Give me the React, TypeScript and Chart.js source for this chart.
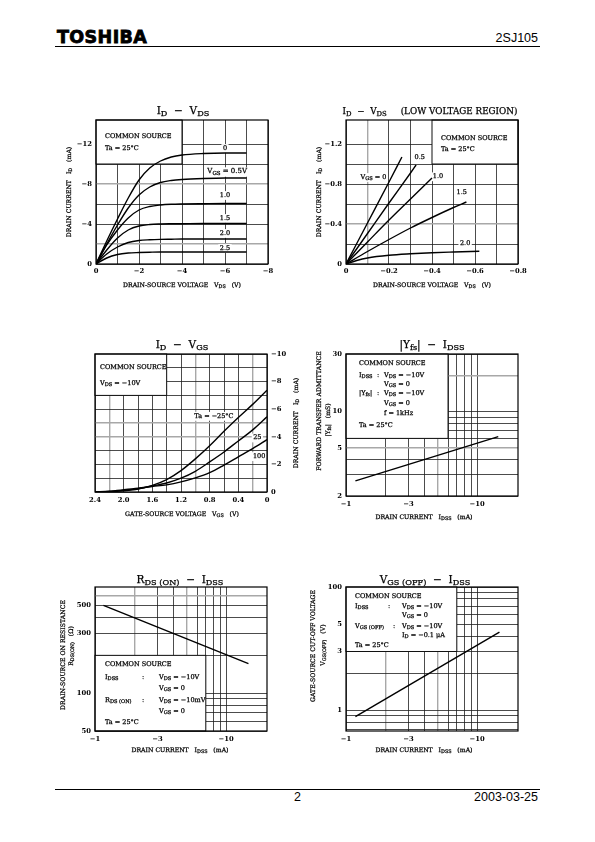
import React, { useEffect, useRef } from "react";
import { Chart, registerables } from "chart.js";
Chart.register(...registerables);

const FONT = '"DejaVu Serif", "Liberation Serif", serif';

// ===== Chart 1 : ID – VDS =====
const c1Vds = [0, -0.5, -1, -1.5, -2, -2.5, -3, -3.5, -4, -5, -6, -7];
const c1IdVgs00 = [0, -2.3, -4.5, -6.6, -8.4, -9.6, -10.3, -10.7, -10.9, -11.05, -11.1, -11.1];
const c1IdVgs05 = [0, -2.0, -3.9, -5.6, -6.9, -7.7, -8.15, -8.35, -8.45, -8.55, -8.6, -8.6];
const c1IdVgs10 = [0, -1.9, -3.4, -4.6, -5.4, -5.75, -5.9, -5.97, -6.0, -6.03, -6.05, -6.05];
const c1IdVgs15 = [0, -1.4, -2.6, -3.4, -3.8, -3.95, -4.0, -4.02, -4.03, -4.05, -4.05, -4.05];
const c1IdVgs20 = [0, -1.0, -1.7, -2.15, -2.35, -2.42, -2.46, -2.48, -2.5, -2.5, -2.5, -2.5];
const c1IdVgs25 = [0, -0.6, -0.95, -1.1, -1.15, -1.18, -1.2, -1.2, -1.2, -1.2, -1.2, -1.2];
const c1XTicks = [0, -1, -2, -3, -4, -5, -6, -7, -8];
const c1XLabels = ["0", "", "−2", "", "−4", "", "−6", "", "−8"];
const c1YTicks = [0, -2, -4, -6, -8, -10, -12];
const c1YLabels = ["0", "", "−4", "", "−8", "", "−12"];

// ===== Chart 2 : ID – VDS (low voltage region) =====
const c2Vgs00X = [0, -0.1, -0.2, -0.26];
const c2Vgs00Y = [0, -0.41, -0.82, -1.07];
const c2Vgs05X = [0, -0.1, -0.2, -0.3, -0.326];
const c2Vgs05Y = [0, -0.305, -0.61, -0.91, -0.99];
const c2Vgs10X = [0, -0.1, -0.2, -0.3, -0.4];
const c2Vgs10Y = [0, -0.22, -0.44, -0.65, -0.86];
const c2Vgs15X = [0, -0.1, -0.2, -0.3, -0.4, -0.5, -0.56];
const c2Vgs15Y = [0, -0.125, -0.245, -0.36, -0.465, -0.565, -0.62];
const c2Vgs20X = [0, -0.05, -0.1, -0.2, -0.3, -0.4, -0.5, -0.62];
const c2Vgs20Y = [0, -0.035, -0.06, -0.087, -0.102, -0.113, -0.12, -0.127];
const c2XTicks = [0, -0.1, -0.2, -0.3, -0.4, -0.5, -0.6, -0.7, -0.8];
const c2XLabels = ["0", "", "−0.2", "", "−0.4", "", "−0.6", "", "−0.8"];
const c2YTicks = [0, -0.2, -0.4, -0.6, -0.8, -1.0, -1.2];
const c2YLabels = ["0", "", "−0.4", "", "−0.8", "", "−1.2"];

// ===== Chart 3 : ID – VGS =====
const c3Vgs = [0, 0.2, 0.4, 0.6, 0.8, 1.0, 1.2, 1.4, 1.6, 1.8, 2.0, 2.2, 2.4];
const c3IdTaM25 = [-7.38, -6.35, -5.4, -4.4, -3.35, -2.4, -1.55, -0.9, -0.48, -0.22, -0.09, -0.02, 0];
const c3IdTa25 = [-5.45, -4.5, -3.7, -2.9, -2.18, -1.5, -1.0, -0.65, -0.43, -0.24, -0.12, -0.04, 0];
const c3IdTa100 = [-3.8, -3.15, -2.55, -1.95, -1.4, -1.02, -0.73, -0.52, -0.4, -0.27, -0.16, -0.06, 0];
const c3XTicks = [0, 0.2, 0.4, 0.6, 0.8, 1.0, 1.2, 1.4, 1.6, 1.8, 2.0, 2.2, 2.4];
const c3XLabels = ["0", "", "0.4", "", "0.8", "", "1.2", "", "1.6", "", "2.0", "", "2.4"];
const c3YTicks = [0, -1, -2, -3, -4, -5, -6, -7, -8, -9, -10];
const c3YLabels = ["0", "", "−2", "", "−4", "", "−6", "", "−8", "", "−10"];

// ===== Chart 4 : |Yfs| – IDSS (IDSS magnitude, mA) =====
const c4Idss = [1.18, 14.5];
const c4Yfs = [2.67, 6.2];
const c4XTicks = [1, 2, 3, 4, 5, 6, 7, 8, 9, 10];
const c4XLabels = ["−1", "", "−3", "", "", "", "", "", "", "−10"];
const c4YTicks = [2, 3, 4, 5, 6, 7, 8, 9, 10, 20, 30];
const c4YLabels = ["2", "", "", "5", "", "", "", "", "10", "", "30"];

// ===== Chart 5 : RDS(ON) – IDSS =====
const c5Idss = [1.16, 14.8];
const c5Rds = [500, 172];
const c5XTicks = [1, 2, 3, 4, 5, 6, 7, 8, 9, 10];
const c5XLabels = ["−1", "", "−3", "", "", "", "", "", "", "−10"];
const c5YTicks = [50, 60, 70, 80, 90, 100, 200, 300, 400, 500, 600];
const c5YLabels = ["50", "", "", "", "", "100", "", "300", "", "500", ""];

// ===== Chart 6 : VGS(OFF) – IDSS =====
const c6Idss = [1.18, 14.8];
const c6Vgsoff = [0.89, 4.3];
const c6XTicks = [1, 2, 3, 4, 5, 6, 7, 8, 9, 10];
const c6XLabels = ["−1", "", "−3", "", "", "", "", "", "", "−10"];
const c6YTicks = [0.7, 0.8, 0.9, 1, 2, 3, 4, 5, 6, 7, 8, 9, 10];
const c6YLabels = ["", "", "", "1", "", "3", "", "5", "", "", "", "", "100"];

// ---------------------------------------------------------------
type Txt = { t: string; x: number; y: number; s?: number; a?: "left" | "center" | "right"; r?: boolean; bg?: boolean };
type Axis = {
  log?: boolean; min: number; max: number; reverse?: boolean;
  ticks: number[]; labels: string[]; gray?: number[]; pad: number;
};
type Spec = {
  left: number; top: number; w: number; h: number;
  plot: [number, number, number, number];
  yRight?: boolean;
  x: Axis; y: Axis;
  series: { xs: number[]; ys: number[]; smooth?: boolean }[];
  box?: [number, number, number, number];
  texts: Txt[];
  labels: Txt[];
};

function parseRich(s: string) {
  const out: { t: string; sub: boolean }[] = [];
  const re = /_\{([^}]*)\}/g;
  let last = 0;
  let m: RegExpExecArray | null;
  while ((m = re.exec(s))) {
    if (m.index > last) out.push({ t: s.slice(last, m.index), sub: false });
    out.push({ t: m[1], sub: true });
    last = m.index + m[0].length;
  }
  if (last < s.length) out.push({ t: s.slice(last), sub: false });
  return out;
}

function drawRich(ctx: CanvasRenderingContext2D, tx: Txt, x: number, y: number) {
  const size = tx.s ?? 6.5;
  const subSize = size * 0.78;
  const segs = parseRich(tx.t);
  ctx.save();
  ctx.translate(x, y);
  if (tx.r) ctx.rotate(-Math.PI / 2);
  const widths = segs.map((sg) => {
    ctx.font = `${sg.sub ? subSize : size}px ${FONT}`;
    return ctx.measureText(sg.t).width;
  });
  const total = widths.reduce((a, b) => a + b, 0);
  const align = tx.a ?? "left";
  let cx = align === "center" ? -total / 2 : align === "right" ? -total : 0;
  if (tx.bg) {
    ctx.fillStyle = "#fff";
    ctx.fillRect(cx - 1.5, -size * 0.6, total + 3, size * 1.35);
  }
  ctx.fillStyle = "#000";
  ctx.strokeStyle = "#000";
  ctx.lineWidth = 0.25;
  ctx.textBaseline = "middle";
  ctx.textAlign = "left";
  segs.forEach((sg, i) => {
    ctx.font = `${sg.sub ? subSize : size}px ${FONT}`;
    const yy = sg.sub ? size * 0.3 : 0;
    ctx.fillText(sg.t, cx, yy);
    ctx.strokeText(sg.t, cx, yy);
    cx += widths[i];
  });
  ctx.restore();
}

function axisCfg(a: Axis, pos: string, size: number) {
  const isGray = (v: number) => (a.gray ?? []).some((g) => Math.abs(g - v) < 1e-9);
  return {
    type: a.log ? "logarithmic" : "linear",
    position: pos,
    min: a.min,
    max: a.max,
    reverse: !!a.reverse,
    afterBuildTicks: (s: any) => {
      s.ticks = a.ticks.map((v) => ({ value: v }));
    },
    afterFit: (s: any) => {
      if (pos === "bottom") s.height = size;
      else s.width = size;
    },
    ticks: {
      autoSkip: false,
      maxRotation: 0,
      minRotation: 0,
      padding: a.pad,
      color: "#000",
      font: { family: FONT, size: 6.8, weight: "bold" },
      callback: (_v: any, i: number) => a.labels[i],
    },
    grid: {
      drawTicks: false,
      color: (c: any) => (c.tick && isGray(c.tick.value) ? "#a8a8a8" : "#1e1e1e"),
      lineWidth: (c: any) => (c.tick && isGray(c.tick.value) ? 1.4 : 0.8),
    },
    border: { display: false },
  };
}

function makePlugin(spec: Spec) {
  return {
    id: "decor",
    beforeDatasetsDraw(chart: any) {
      const ctx: CanvasRenderingContext2D = chart.ctx;
      const ca = chart.chartArea;
      const xs = chart.scales.x;
      const ys = chart.scales.y;
      if (spec.box) {
        const [x0, x1, y0, y1] = spec.box;
        const px0 = xs.getPixelForValue(x0), px1 = xs.getPixelForValue(x1);
        const py0 = ys.getPixelForValue(y0), py1 = ys.getPixelForValue(y1);
        const l = Math.max(ca.left, Math.min(px0, px1));
        const r = Math.min(ca.right, Math.max(px0, px1));
        const t = Math.max(ca.top, Math.min(py0, py1));
        const b = Math.min(ca.bottom, Math.max(py0, py1));
        ctx.save();
        ctx.fillStyle = "#fff";
        ctx.fillRect(l, t, r - l, b - t);
        ctx.strokeStyle = "#111";
        ctx.lineWidth = 1;
        ctx.strokeRect(l, t, r - l, b - t);
        ctx.restore();
      }
      spec.texts.forEach((tx) => drawRich(ctx, tx, tx.x - spec.left, tx.y - spec.top));
      spec.labels.forEach((tx) => drawRich(ctx, { ...tx, a: tx.a ?? "center", bg: true }, xs.getPixelForValue(tx.x), ys.getPixelForValue(tx.y)));
    },
    afterDatasetsDraw(chart: any) {
      const ctx: CanvasRenderingContext2D = chart.ctx;
      const ca = chart.chartArea;
      ctx.save();
      ctx.strokeStyle = "#000";
      ctx.lineWidth = 1.2;
      ctx.strokeRect(ca.left, ca.top, ca.right - ca.left, ca.bottom - ca.top);
      ctx.restore();
    },
  };
}

function buildConfig(spec: Spec): any {
  const [pl, pt, pr, pb] = spec.plot;
  const leftW = pl - spec.left;
  const rightW = spec.left + spec.w - pr;
  const topH = pt - spec.top;
  const botH = spec.top + spec.h - pb;
  return {
    type: "scatter",
    data: {
      datasets: spec.series.map((s) => ({
        data: s.xs.map((x, i) => ({ x, y: s.ys[i] })),
        showLine: true,
        borderColor: "#000",
        borderWidth: 1.4,
        pointRadius: 0,
        cubicInterpolationMode: s.smooth ? "monotone" : "default",
        tension: 0,
      })),
    },
    options: {
      animation: false,
      responsive: false,
      maintainAspectRatio: false,
      devicePixelRatio: 1,
      events: [],
      layout: {
        padding: {
          left: spec.yRight ? leftW : 0,
          right: spec.yRight ? 0 : rightW,
          top: topH,
          bottom: 0,
        },
      },
      plugins: { legend: { display: false }, tooltip: { enabled: false }, title: { display: false } },
      scales: {
        x: axisCfg(spec.x, "bottom", botH),
        y: axisCfg(spec.y, spec.yRight ? "right" : "left", spec.yRight ? rightW : leftW),
      },
    },
    plugins: [makePlugin(spec)],
  };
}

// ---------------------------------------------------------------
const LOG_X = { log: true, min: 1, max: 20.5, pad: 4 };

const specs: Spec[] = [
  {
    left: 40, top: 98, w: 240, h: 200, plot: [96, 120, 268, 264],
    x: { min: -8, max: 0, reverse: true, ticks: c1XTicks, labels: c1XLabels, pad: 3 },
    y: { min: -14.4, max: 0, reverse: true, ticks: c1YTicks, labels: c1YLabels, gray: [-8, -2], pad: 4 },
    series: [c1IdVgs00, c1IdVgs05, c1IdVgs10, c1IdVgs15, c1IdVgs20, c1IdVgs25].map((ys) => ({ xs: c1Vds, ys, smooth: true })),
    box: [0, -4, -10, -14.4],
    texts: [
      { t: "I_{D}  −  V_{DS}", x: 183, y: 111, s: 10.5, a: "center" },
      { t: "DRAIN-SOURCE VOLTAGE   V_{DS}   (V)", x: 182, y: 285, s: 6.2, a: "center" },
      { t: "DRAIN CURRENT   I_{D}   (mA)", x: 69, y: 192, s: 6.2, a: "center", r: true },
      { t: "COMMON SOURCE", x: 105, y: 136 },
      { t: "Ta = 25°C", x: 105, y: 148 },
    ],
    labels: [
      { t: "0", x: -6, y: -11.6 },
      { t: "V_{GS} = 0.5V", x: -6.1, y: -9.25, s: 7 },
      { t: "1.0", x: -6, y: -6.9 },
      { t: "1.5", x: -6, y: -4.6 },
      { t: "2.0", x: -6, y: -3.1 },
      { t: "2.5", x: -6, y: -1.6 },
    ],
  },
  {
    left: 300, top: 98, w: 230, h: 200, plot: [346, 120, 518, 264],
    x: { min: -0.8, max: 0, reverse: true, ticks: c2XTicks, labels: c2XLabels, gray: [-0.1], pad: 3 },
    y: { min: -1.44, max: 0, reverse: true, ticks: c2YTicks, labels: c2YLabels, gray: [-0.4], pad: 4 },
    series: [
      { xs: c2Vgs00X, ys: c2Vgs00Y, smooth: true },
      { xs: c2Vgs05X, ys: c2Vgs05Y, smooth: true },
      { xs: c2Vgs10X, ys: c2Vgs10Y, smooth: true },
      { xs: c2Vgs15X, ys: c2Vgs15Y, smooth: true },
      { xs: c2Vgs20X, ys: c2Vgs20Y, smooth: true },
    ],
    box: [-0.4, -0.8, -1.0, -1.44],
    texts: [
      { t: "I_{D}  −  V_{DS}     (LOW VOLTAGE REGION)", x: 430, y: 112, s: 8.8, a: "center" },
      { t: "DRAIN-SOURCE VOLTAGE   V_{DS}   (V)", x: 432, y: 285, s: 6.2, a: "center" },
      { t: "DRAIN CURRENT   I_{D}   (mA)", x: 319, y: 192, s: 6.2, a: "center", r: true },
      { t: "COMMON SOURCE", x: 441, y: 138 },
      { t: "Ta = 25°C", x: 441, y: 149 },
    ],
    labels: [
      { t: "V_{GS} = 0", x: -0.128, y: -0.87 },
      { t: "0.5", x: -0.343, y: -1.07 },
      { t: "1.0", x: -0.428, y: -0.877 },
      { t: "1.5", x: -0.538, y: -0.713 },
      { t: "2.0", x: -0.554, y: -0.203 },
    ],
  },
  {
    left: 55, top: 332, w: 255, h: 190, plot: [95, 354, 267, 492], yRight: true,
    x: { min: 0, max: 2.4, reverse: true, ticks: c3XTicks, labels: c3XLabels, gray: [2.2, 1.0, 0.2], pad: 4 },
    y: { min: -10, max: 0, reverse: true, ticks: c3YTicks, labels: c3YLabels, gray: [-5, -4], pad: 4 },
    series: [c3IdTaM25, c3IdTa25, c3IdTa100].map((ys) => ({ xs: c3Vgs, ys, smooth: true })),
    box: [2.4, 1.4, -7, -10],
    texts: [
      { t: "I_{D}  −  V_{GS}", x: 182, y: 345, s: 10.5, a: "center" },
      { t: "GATE-SOURCE VOLTAGE   V_{GS}   (V)", x: 182, y: 514, s: 6.2, a: "center" },
      { t: "DRAIN CURRENT   I_{D}   (mA)", x: 296, y: 423, s: 6.2, a: "center", r: true },
      { t: "COMMON SOURCE", x: 100, y: 367 },
      { t: "V_{DS} = −10V", x: 100, y: 383 },
    ],
    labels: [
      { t: "Ta = −25°C", x: 0.74, y: -5.52 },
      { t: "25", x: 0.135, y: -3.95 },
      { t: "100", x: 0.11, y: -2.6 },
    ],
  },
  {
    left: 300, top: 332, w: 230, h: 192, plot: [346, 354, 518, 496],
    x: { ...LOG_X, ticks: c4XTicks, labels: c4XLabels, gray: [5] },
    y: { log: true, min: 2, max: 30, ticks: c4YTicks, labels: c4YLabels, gray: [20, 5], pad: 4 },
    series: [{ xs: c4Idss, ys: c4Yfs }],
    box: [1, 6, 6, 30],
    texts: [
      { t: "|Y_{fs}|  −  I_{DSS}", x: 432, y: 345, s: 10.5, a: "center" },
      { t: "DRAIN CURRENT   I_{DSS}   (mA)", x: 424, y: 517, s: 6.2, a: "center" },
      { t: "FORWARD TRANSFER ADMITTANCE", x: 319, y: 411, s: 6.2, a: "center", r: true },
      { t: "|Y_{fs}|   (mS)", x: 328, y: 420, s: 6.2, a: "center", r: true },
      { t: "COMMON SOURCE", x: 359, y: 363 },
      { t: "I_{DSS}", x: 359, y: 375 },
      { t: ":", x: 377, y: 375 },
      { t: "V_{DS} = −10V", x: 384, y: 375 },
      { t: "V_{GS} = 0", x: 384, y: 384 },
      { t: "|Y_{fs}|", x: 359, y: 393 },
      { t: ":", x: 377, y: 393 },
      { t: "V_{DS} = −10V", x: 384, y: 393 },
      { t: "V_{GS} = 0", x: 384, y: 403 },
      { t: "f = 1kHz", x: 384, y: 413 },
      { t: "Ta = 25°C", x: 359, y: 425 },
    ],
    labels: [],
  },
  {
    left: 45, top: 565, w: 235, h: 195, plot: [95, 587, 267, 731],
    x: { ...LOG_X, ticks: c5XTicks, labels: c5XLabels, gray: [2, 5] },
    y: { log: true, min: 50, max: 700, ticks: c5YTicks, labels: c5YLabels, gray: [600], pad: 4 },
    series: [{ xs: c5Idss, ys: c5Rds }],
    box: [1, 7, 50, 200],
    texts: [
      { t: "R_{DS (ON)}  −  I_{DSS}", x: 180, y: 580, s: 10.5, a: "center" },
      { t: "DRAIN CURRENT   I_{DSS}   (mA)", x: 180, y: 750, s: 6.2, a: "center" },
      { t: "DRAIN-SOURCE ON RESISTANCE", x: 63, y: 655, s: 6.2, a: "center", r: true },
      { t: "R_{DS(ON)}   (Ω)", x: 71, y: 646, s: 6.2, a: "center", r: true },
      { t: "COMMON SOURCE", x: 105, y: 664 },
      { t: "I_{DSS}", x: 105, y: 677 },
      { t: ":", x: 142, y: 677 },
      { t: "V_{DS} = −10V", x: 159, y: 677 },
      { t: "V_{GS} = 0", x: 159, y: 688 },
      { t: "R_{DS (ON)}", x: 105, y: 700 },
      { t: ":", x: 142, y: 700 },
      { t: "V_{DS} = −10mV", x: 159, y: 700 },
      { t: "V_{GS} = 0", x: 159, y: 711 },
      { t: "Ta = 25°C", x: 105, y: 722 },
    ],
    labels: [],
  },
  {
    left: 300, top: 565, w: 230, h: 195, plot: [346, 587, 518, 731],
    x: { ...LOG_X, ticks: c6XTicks, labels: c6XLabels, gray: [2, 5] },
    y: { log: true, min: 0.68, max: 10, ticks: c6YTicks, labels: c6YLabels, pad: 4 },
    series: [{ xs: c6Idss, ys: c6Vgsoff }],
    box: [1, 7, 3, 10],
    texts: [
      { t: "V_{GS (OFF)}  −  I_{DSS}", x: 425, y: 580, s: 10.5, a: "center" },
      { t: "DRAIN CURRENT   I_{DSS}   (mA)", x: 424, y: 750, s: 6.2, a: "center" },
      { t: "GATE-SOURCE CUT-OFF VOLTAGE", x: 313, y: 646, s: 6.2, a: "center", r: true },
      { t: "V_{GS(OFF)}   (V)", x: 323, y: 645, s: 6.2, a: "center", r: true },
      { t: "COMMON SOURCE", x: 355, y: 596 },
      { t: "I_{DSS}", x: 355, y: 606 },
      { t: ":", x: 388, y: 606 },
      { t: "V_{DS} = −10V", x: 402, y: 606 },
      { t: "V_{GS} = 0", x: 402, y: 615 },
      { t: "V_{GS (OFF)}", x: 355, y: 626 },
      { t: ":", x: 393, y: 626 },
      { t: "V_{DS} = −10V", x: 402, y: 626 },
      { t: "I_{D} = −0.1 μA", x: 402, y: 635 },
      { t: "Ta = 25°C", x: 355, y: 645 },
    ],
    labels: [],
  },
];

function ChartBox({ spec }: { spec: Spec }) {
  const ref = useRef<HTMLCanvasElement>(null);
  useEffect(() => {
    const chart = new Chart(ref.current as HTMLCanvasElement, buildConfig(spec));
    return () => chart.destroy();
  }, [spec]);
  return (
    <canvas
      ref={ref}
      width={spec.w}
      height={spec.h}
      style={{ position: "absolute", left: spec.left, top: spec.top, width: spec.w, height: spec.h }}
    />
  );
}

export default function App() {
  const sans = '"Liberation Sans", Arial, sans-serif';
  return (
    <div style={{ position: "absolute", left: 0, top: 0, width: 595, height: 842, background: "#fff", overflow: "hidden" }}>
      <div style={{ position: "absolute", left: 57, top: 27, fontFamily: '"DejaVu Sans", sans-serif', fontWeight: 900, fontSize: 17.5, lineHeight: "20px", letterSpacing: 0.4, WebkitTextStroke: "0.8px #000" }}>TOSHIBA</div>
      <div style={{ position: "absolute", right: 57, top: 31, fontFamily: sans, fontSize: 12.5, lineHeight: "14px" }}>2SJ105</div>
      <div style={{ position: "absolute", left: 55, top: 46, width: 485, height: 0, borderTop: "1px solid #000" }} />
      <div style={{ position: "absolute", left: 55, top: 789, width: 485, height: 0, borderTop: "1px solid #000" }} />
      <div style={{ position: "absolute", left: 294, top: 790, fontFamily: sans, fontSize: 12.5, lineHeight: "14px" }}>2</div>
      <div style={{ position: "absolute", right: 57, top: 790, fontFamily: sans, fontSize: 12.5, lineHeight: "14px" }}>2003-03-25</div>
      {specs.map((s, i) => (
        <ChartBox key={i} spec={s} />
      ))}
    </div>
  );
}
